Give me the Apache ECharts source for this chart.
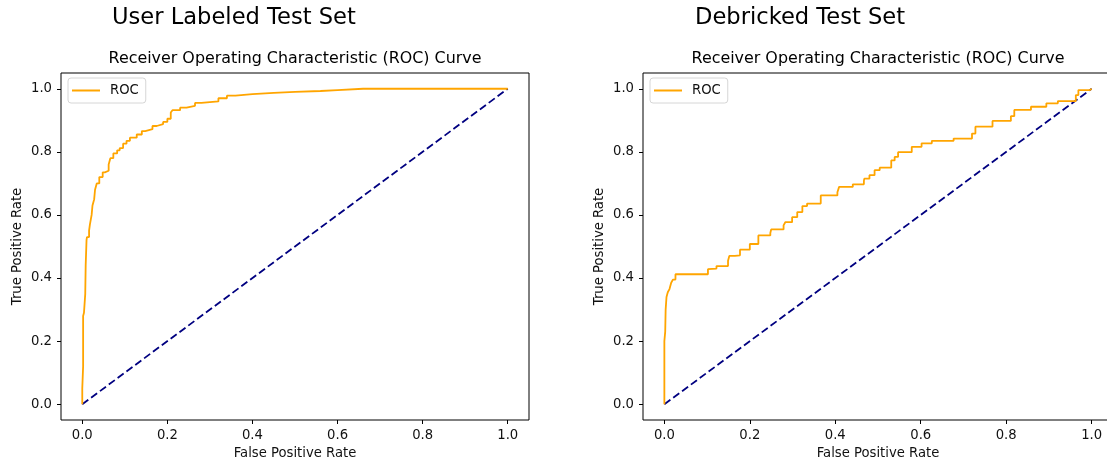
<!DOCTYPE html>
<html>
<head>
<meta charset="utf-8">
<script src="https://cdn.jsdelivr.net/npm/echarts@6/dist/echarts.min.js"></script>
<style>
  html, body { margin: 0; padding: 0; background: #fff; overflow: hidden; }
  #chart { width: 1130px; height: 465px; }
</style>
</head>
<body>
<div id="chart"></div>
<script>
// ROC curves (FPR, TPR)
const userLabeledRoc = [
  [0, 0], [0, 0.05], [0.002, 0.05], [0.002, 0.12], [0.004, 0.28], [0.007, 0.29],
  [0.008, 0.35], [0.010, 0.44], [0.011, 0.52], [0.016, 0.53], [0.018, 0.55],
  [0.022, 0.57], [0.024, 0.60], [0.028, 0.63], [0.030, 0.65], [0.034, 0.68],
  [0.040, 0.70], [0.048, 0.72], [0.053, 0.735], [0.062, 0.74], [0.066, 0.76],
  [0.073, 0.78], [0.082, 0.795], [0.088, 0.805], [0.096, 0.812], [0.104, 0.826],
  [0.112, 0.835], [0.128, 0.845], [0.140, 0.855], [0.148, 0.866], [0.165, 0.872],
  [0.175, 0.882], [0.190, 0.888], [0.200, 0.895], [0.208, 0.905], [0.212, 0.925],
  [0.230, 0.932], [0.245, 0.940], [0.265, 0.946], [0.280, 0.955], [0.320, 0.960],
  [0.340, 0.970], [0.360, 0.978], [0.400, 0.983], [0.450, 0.987], [0.500, 0.990],
  [0.560, 0.993], [0.600, 0.996], [0.660, 1.0], [1.0, 1.0]
];
const debrickedRoc = [
  [0, 0], [0, 0.13], [0.002, 0.20], [0.003, 0.23], [0.005, 0.30], [0.008, 0.34],
  [0.012, 0.355], [0.016, 0.365], [0.020, 0.385], [0.026, 0.395], [0.035, 0.412],
  [0.102, 0.412], [0.106, 0.428], [0.122, 0.430], [0.124, 0.438], [0.149, 0.438],
  [0.152, 0.455], [0.165, 0.470], [0.177, 0.472], [0.189, 0.490], [0.200, 0.490],
  [0.202, 0.508], [0.220, 0.508], [0.228, 0.535], [0.248, 0.535], [0.250, 0.543],
  [0.264, 0.554], [0.279, 0.554], [0.283, 0.567], [0.299, 0.577], [0.311, 0.593],
  [0.323, 0.609], [0.334, 0.628], [0.350, 0.636], [0.366, 0.636], [0.372, 0.662],
  [0.405, 0.662], [0.409, 0.672], [0.417, 0.689], [0.441, 0.689], [0.445, 0.697],
  [0.467, 0.697], [0.468, 0.708], [0.480, 0.715], [0.492, 0.726], [0.504, 0.742],
  [0.519, 0.750], [0.531, 0.750], [0.539, 0.773], [0.547, 0.784], [0.551, 0.799],
  [0.579, 0.799], [0.583, 0.816], [0.602, 0.816], [0.606, 0.827], [0.626, 0.827],
  [0.627, 0.835], [0.677, 0.835], [0.681, 0.842], [0.720, 0.842], [0.728, 0.858],
  [0.740, 0.880], [0.768, 0.880], [0.772, 0.898], [0.811, 0.898], [0.819, 0.913],
  [0.829, 0.933], [0.858, 0.933], [0.861, 0.943], [0.894, 0.943], [0.896, 0.954],
  [0.921, 0.954], [0.924, 0.961], [0.963, 0.961], [0.969, 0.980], [0.977, 0.996],
  [0.996, 0.996], [1.0, 1.0]
];
const chanceLine = [[0, 0], [1, 1]];
const tickValues = [0, 0.2, 0.4, 0.6, 0.8, 1.0];
const panelTitles = ["User Labeled Test Set", "Debricked Test Set"];
const axesTitle = "Receiver Operating Characteristic (ROC) Curve";

const FONT = "DejaVu Sans";
const panels = [
  { left: 61, width: 468, titleX: 112 },
  { left: 643, width: 470, titleX: 695 },
];

function valueAxis(gridIndex, name, isY) {
  return {
    type: "value",
    gridIndex,
    min: -0.05,
    max: 1.05,
    name,
    nameLocation: "middle",
    nameGap: isY ? 37 : 27,
    nameTextStyle: { fontFamily: FONT, fontSize: 13.2, color: "#111" },
    axisLine: { show: false, onZero: false },
    axisTick: { show: true, length: 4, customValues: tickValues, lineStyle: { color: "#000" } },
    axisLabel: {
      customValues: tickValues,
      margin: 9,
      fontFamily: FONT,
      fontSize: 13.2,
      color: "#111",
      formatter: (v) => v.toFixed(1),
    },
    splitLine: { show: false },
  };
}

const chart = echarts.init(document.getElementById("chart"), null, { renderer: "canvas" });
chart.setOption({
  backgroundColor: "#fff",
  animation: false,
  title: panels.flatMap((p, i) => [
    { text: panelTitles[i], left: p.titleX, top: 7, padding: 0, textStyle: { fontFamily: FONT, fontSize: 22.6, fontWeight: "normal", color: "#000" } },
    { text: axesTitle, left: p.left + p.width / 2, top: 51, padding: 0, textAlign: "center", textStyle: { fontFamily: FONT, fontSize: 15.9, fontWeight: "normal", color: "#000" } },
  ]),
  legend: panels.map((p) => ({
    data: [{ name: "ROC", icon: "rect" }],
    left: p.left + 7,
    top: 78,
    orient: "vertical",
    itemWidth: 28,
    itemHeight: 2,
    padding: [6, 7, 6, 4],
    backgroundColor: "#fff",
    borderColor: "#d6d6d6",
    borderWidth: 1,
    borderRadius: 3,
    textStyle: { fontFamily: FONT, fontSize: 13.2, color: "#111", padding: [0, 0, 0, 5] },
    selectedMode: false,
  })),
  grid: panels.map((p) => ({
    left: p.left, top: 73, width: p.width, height: 348,
    show: true, borderColor: "#000", borderWidth: 1, backgroundColor: "#fff",
  })),
  xAxis: panels.map((p, i) => valueAxis(i, "False Positive Rate", false)),
  yAxis: panels.map((p, i) => valueAxis(i, "True Positive Rate", true)),
  series: [userLabeledRoc, debrickedRoc].flatMap((roc, i) => [
    {
      name: "ROC", type: "line", xAxisIndex: i, yAxisIndex: i, data: roc, step: "start",
      symbol: "none", lineStyle: { color: "#ffa500", width: 1.8 }, itemStyle: { color: "#ffa500" }, z: 3,
    },
    {
      name: "chance", type: "line", xAxisIndex: i, yAxisIndex: i, data: chanceLine,
      symbol: "none", lineStyle: { color: "#000080", width: 1.8, type: [7.5, 3.5] }, z: 2,
    },
  ]),
});
</script>
</body>
</html>
